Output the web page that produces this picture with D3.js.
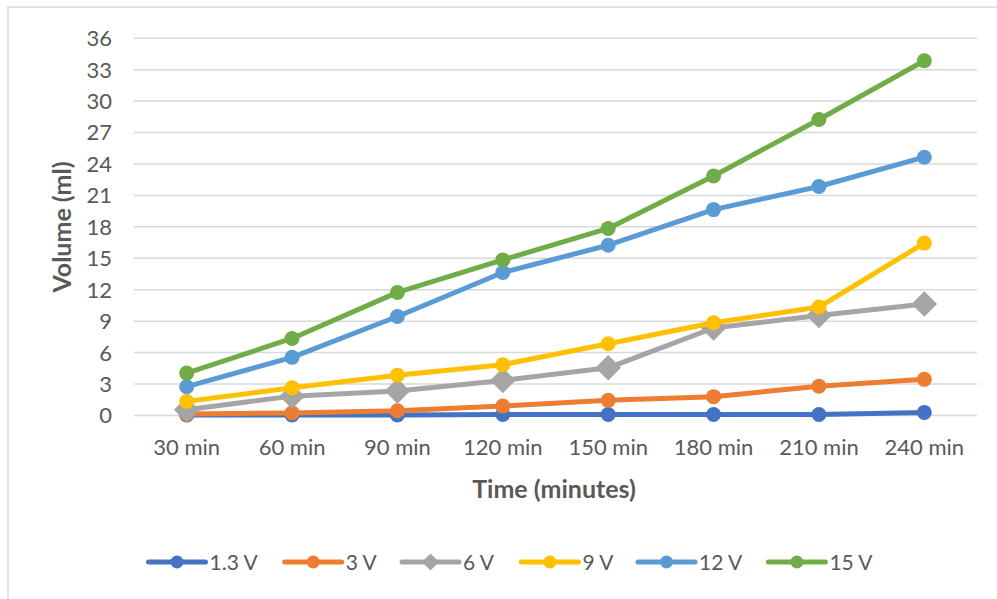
<!DOCTYPE html>
<html><head><meta charset="utf-8">
<script src="https://cdn.jsdelivr.net/npm/d3@7"></script>
<style>body{margin:0;background:#fff}svg{display:block}text{font-family:Lato,"Open Sans",sans-serif;fill:#595959}</style>
</head><body><svg id="c" width="997" height="599"></svg>
<script>
const categories = ["30 min","60 min","90 min","120 min","150 min","180 min","210 min","240 min"];
const seriesNames = ["1.3 V","3 V","6 V","9 V","12 V","15 V"];
const v1_3 = [0, 0, 0, 0.05, 0.05, 0.05, 0.05, 0.25];
const v3   = [0.1, 0.2, 0.4, 0.85, 1.4, 1.75, 2.75, 3.4];
const v6   = [0.5, 1.8, 2.3, 3.3, 4.5, 8.3, 9.5, 10.6];
const v9   = [1.3, 2.6, 3.8, 4.8, 6.8, 8.8, 10.3, 16.4];
const v12  = [2.7, 5.5, 9.4, 13.6, 16.2, 19.6, 21.8, 24.6];
const v15  = [4.0, 7.3, 11.7, 14.8, 17.8, 22.8, 28.2, 33.8];
const yTicks = [0,3,6,9,12,15,18,21,24,27,30,33,36];
const colors = ["#4472C4","#ED7D31","#A5A5A5","#FFC000","#5B9BD5","#70AD47"];
const shapes = ["circle","circle","diamond","circle","circle","circle"];

const series = [v1_3, v3, v6, v9, v12, v15].map((vals,i)=>({name:seriesNames[i], values:vals, color:colors[i], shape:shapes[i]}));

const svg = d3.select("#c");
svg.append("rect").attr("x",8).attr("y",7).attr("width",1100).attr("height",700)
  .attr("fill","#fff").attr("stroke","#D9D9D9").attr("stroke-width",1.5);

const x = d3.scaleBand().domain(categories).range([134,977]).padding(0);
const y = d3.scaleLinear().domain([0,36]).range([415,37.7]);

// gridlines
const grid = svg.append("g").attr("transform","translate(134,0)")
  .call(d3.axisLeft(y).tickValues(yTicks).tickSize(-(977-134)).tickFormat(""));
grid.select(".domain").remove();
grid.selectAll("line").attr("stroke","#D9D9D9").attr("stroke-width",1.5);

// y tick labels
const ya = svg.append("g").attr("transform","translate(112,0)")
  .call(d3.axisLeft(y).tickValues(yTicks).tickSize(0).tickPadding(0));
ya.select(".domain").remove();
ya.selectAll("text").attr("font-size",22).attr("fill","#595959").attr("font-family","Lato").attr("dy","0.36em");

// x tick labels
const xa = svg.append("g").attr("transform","translate(0,415)")
  .call(d3.axisBottom(x).tickSize(0).tickPadding(0));
xa.select(".domain").remove();
xa.selectAll("text").attr("font-size",22).attr("fill","#595959").attr("font-family","Lato").attr("dy",null).attr("y",40);

// titles
svg.append("text").attr("x",554).attr("y",498).attr("text-anchor","middle")
  .attr("font-size",25).attr("font-weight","bold").text("Time (minutes)");
svg.append("text").attr("transform","translate(71,227) rotate(-90)").attr("text-anchor","middle")
  .attr("font-size",25).attr("font-weight","bold").text("Volume (ml)");

const cx = d => x(d) + x.bandwidth()/2;
const line = d3.line().x((d,i)=>cx(categories[i])).y(d=>y(d));

function marker(g, shape, px, py, color, r){
  if(shape==="diamond"){
    const s = r*1.7;
    g.append("path").attr("d",`M${px},${py-s}L${px+s},${py}L${px},${py+s}L${px-s},${py}Z`).attr("fill",color);
  } else {
    g.append("circle").attr("cx",px).attr("cy",py).attr("r",r).attr("fill",color);
  }
}

series.forEach(s=>{
  const g = svg.append("g");
  g.append("path").attr("d",line(s.values)).attr("fill","none").attr("stroke",s.color)
    .attr("stroke-width",5).attr("stroke-linejoin","round").attr("stroke-linecap","round");
  s.values.forEach((v,i)=>marker(g, s.shape, cx(categories[i]), y(v), s.color, 7.5));
});

// legend
const legX = [148.5, 284.7, 402, 521.4, 638, 768.4];
const legY = 562;
series.forEach((s,i)=>{
  const g = svg.append("g");
  g.append("line").attr("x1",legX[i]).attr("x2",legX[i]+57).attr("y1",legY).attr("y2",legY)
    .attr("stroke",s.color).attr("stroke-width",5).attr("stroke-linecap","round");
  marker(g, s.shape, legX[i]+28.5, legY, s.color, s.shape==="diamond"?5:6.5);
  g.append("text").attr("x",legX[i]+61).attr("y",legY).attr("dy","0.36em")
    .attr("font-size",21).text(s.name);
});
</script></body></html>
